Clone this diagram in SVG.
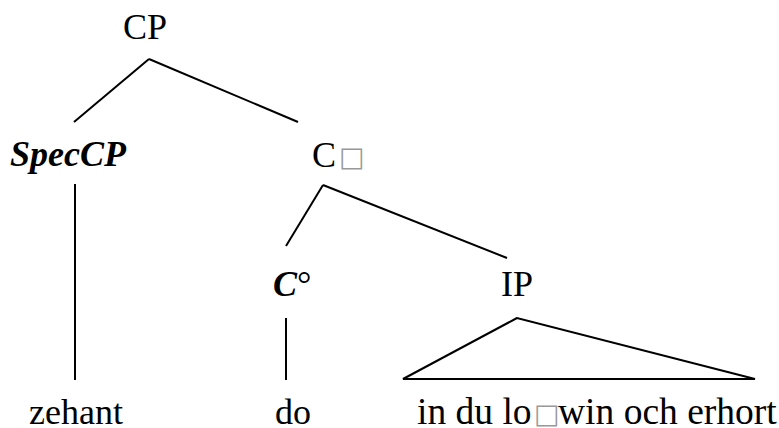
<svg xmlns="http://www.w3.org/2000/svg" width="779" height="428" viewBox="0 0 779 428">
<style>
text{font-family:"Liberation Serif","Times New Roman",serif;font-size:36px;fill:#000}
.bi{font-weight:bold;font-style:italic}
.box{font-family:"DejaVu Sans",sans-serif;font-size:27px;fill:#999}
.edges line,.edges polygon{stroke:#000;stroke-width:2;fill:none}
</style>
<rect width="779" height="428" fill="#fff"/>
<g class="edges" id="connectors">
<line x1="149" y1="59" x2="74" y2="122"/>
<line x1="149" y1="59" x2="298" y2="122"/>
<line x1="75" y1="184" x2="75" y2="380"/>
<line x1="323" y1="185" x2="286" y2="246"/>
<line x1="323" y1="185" x2="507" y2="258"/>
<line x1="286" y1="318" x2="286" y2="380"/>
<polygon points="517,318 403,379 755,379"/>
</g>
<g id="CP"><text x="123" y="39">CP</text></g>
<g id="SpecCP"><text class="bi" x="10" y="166">SpecCP</text></g>
<g id="Cbar"><text x="312" y="167">C<tspan class="box" x="339" y="166">□</tspan></text></g>
<g id="C0"><text x="273" y="296"><tspan class="bi">C</tspan>°</text></g>
<g id="IP"><text x="501" y="296">IP</text></g>
<g id="zehant"><text x="29" y="424">zehant</text></g>
<g id="do"><text x="275" y="424">do</text></g>
<g id="phrase"><text x="417" y="424" style="font-size:37.5px">in du lo<tspan class="box" x="534" y="423">□</tspan><tspan x="558" y="424">win och erhort</tspan></text></g>
</svg>
